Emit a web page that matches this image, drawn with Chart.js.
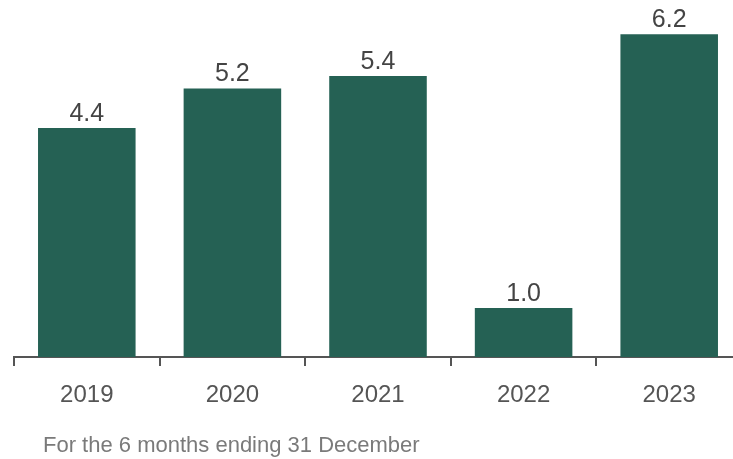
<!DOCTYPE html>
<html>
<head>
<meta charset="utf-8">
<script src="https://cdn.jsdelivr.net/npm/chart.js@4/dist/chart.umd.min.js"></script>
<style>
  html, body { margin: 0; padding: 0; background: #fff; overflow: hidden; width: 733px; height: 459px; }
  #wrap { position: absolute; left: 0; top: 0; width: 744px; height: 459px; }
  #note { position: absolute; left: 43px; top: 432px; font-family: "Liberation Sans", Arial, sans-serif; font-size: 22px; line-height: 26px; color: #7a7a7a; white-space: nowrap; }
</style>
</head>
<body>
<div id="wrap"><canvas id="c" width="744" height="459"></canvas></div>
<div id="note">For the 6 months ending 31 December</div>
<script>
const categories = ["2019", "2020", "2021", "2022", "2023"];
const values = [4.4, 5.16, 5.4, 0.94, 6.2];
const valueLabels = ["4.4", "5.2", "5.4", "1.0", "6.2"];

const FONT = '"Liberation Sans", Arial, sans-serif';

const labelPlugin = {
  id: 'valueLabels',
  afterDatasetsDraw(chart) {
    const ctx = chart.ctx;
    const meta = chart.getDatasetMeta(0);
    ctx.save();
    ctx.font = '25px ' + FONT;
    ctx.fillStyle = '#444444';
    ctx.textAlign = 'center';
    ctx.textBaseline = 'alphabetic';
    meta.data.forEach((bar, i) => {
      ctx.fillText(valueLabels[i], bar.x, bar.y - 7);
    });
    ctx.restore();
  }
};

new Chart(document.getElementById('c'), {
  type: 'bar',
  data: {
    labels: categories,
    datasets: [{
      data: values,
      backgroundColor: '#256154',
      barPercentage: 0.67,
      categoryPercentage: 1.0
    }]
  },
  options: {
    responsive: false,
    animation: false,
    layout: { padding: { left: 14, right: 2, top: 3, bottom: 0 } },
    plugins: { legend: { display: false }, tooltip: { enabled: false } },
    scales: {
      y: { display: false, min: 0, max: 6.8 },
      x: {
        afterFit(scale) { scale.height = 102; },
        border: { display: true, color: '#555555', width: 2 },
        grid: { display: true, drawOnChartArea: false, drawTicks: true, tickLength: 9, color: '#555555', lineWidth: 2, offset: true },
        ticks: { color: '#555555', font: { family: FONT, size: 24 }, padding: 15 }
      }
    }
  },
  plugins: [labelPlugin]
});
</script>
</body>
</html>
